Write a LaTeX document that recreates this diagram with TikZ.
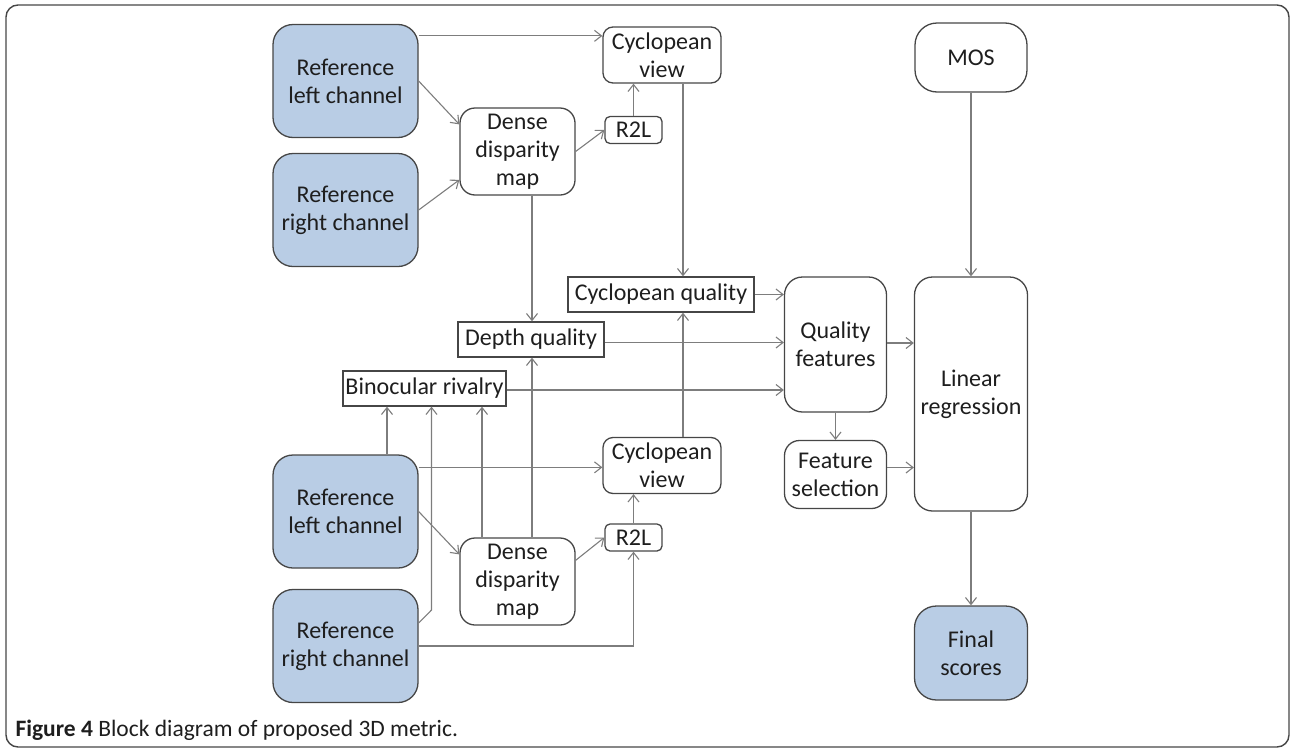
\documentclass[tikz,border=0pt]{standalone}
\usepackage{fontspec}
\setmainfont{Carlito}
\usetikzlibrary{positioning}
\usetikzlibrary{calc}
\usetikzlibrary{arrows.meta}

\definecolor{refblue}{RGB}{185,205,229}
\definecolor{boxline}{RGB}{70,70,70}
\definecolor{connline}{RGB}{125,125,125}
\definecolor{txt}{RGB}{30,30,30}

\begin{document}
\begin{tikzpicture}[x=1pt,y=-1pt,
  font=\fontsize{24}{28}\selectfont,
  block/.style={draw=boxline,line width=1.3pt,align=center,inner sep=0pt,text=txt},
  rbox/.style={block,rounded corners=#1},
  inbox/.style={rbox=20pt,fill=refblue,minimum width=145pt,minimum height=113pt},
  sbox/.style={block,minimum height=35pt},
  conn/.style={draw=connline,line width=1.1pt,-{Straight Barb[length=7pt,width=11pt]}}]
\useasboundingbox (0,0) rectangle (1291,750);
\draw[boxline,line width=1.4pt,rounded corners=12pt] (6,5) rectangle (1289,747);

% upper branch
\node[inbox] (refL1) at (345.5,81) {Reference\\left channel};
\node[inbox] (refR1) at (345.5,210) {Reference\\right channel};
\node[rbox=15pt,minimum width=115pt,minimum height=87pt] (dense1) at (517.5,151.5) {Dense\\disparity\\map};
\node[rbox=5pt,minimum width=57pt,minimum height=27pt] (r2l1) at (633.5,130) {R2L};
\node[rbox=10pt,minimum width=118pt,minimum height=56pt] (cyc1) at (662,55) {Cyclopean\\view};

% quality measures
\node[sbox,minimum width=186pt] (cycq) at (661,294.5) {Cyclopean quality};
\node[sbox,minimum width=146pt] (depq) at (531,339.5) {Depth quality};
\node[sbox,minimum width=163pt] (binoc) at (424.5,388.5) {Binocular rivalry};

% lower branch
\node[inbox] (refL2) at (345.5,511.5) {Reference\\left channel};
\node[inbox] (refR2) at (345.5,646) {Reference\\right channel};
\node[rbox=15pt,minimum width=115pt,minimum height=87pt] (dense2) at (517.5,581.5) {Dense\\disparity\\map};
\node[rbox=5pt,minimum width=57pt,minimum height=27pt] (r2l2) at (633.5,537.5) {R2L};
\node[rbox=10pt,minimum width=118pt,minimum height=56pt] (cyc2) at (662,465.5) {Cyclopean\\view};

% regression part
\node[rbox=18pt,minimum width=102pt,minimum height=135pt] (qf) at (835.5,344.5) {Quality\\features};
\node[rbox=15pt,minimum width=102pt,minimum height=68pt] (fs) at (835.5,474.5) {Feature\\selection};
\node[rbox=22pt,minimum width=112pt,minimum height=69pt] (mos) at (971,57.5) {MOS};
\node[rbox=18pt,minimum width=113pt,minimum height=234pt] (lr) at (971,394) {Linear\\regression};
\node[rbox=22pt,fill=refblue,minimum width=113pt,minimum height=94pt] (final) at (971,653) {Final\\scores};

\node[anchor=base west,font=\fontsize{23.5}{26}\selectfont,text=txt] (cap) at (12,736)
  {\textbf{Figure 4} Block diagram of proposed 3D metric.};

\coordinate (bend) at (431.5,610);

% upper connectors
\draw[conn] ([yshift=-12pt]refL1.north east) -- ([yshift=-12pt]refL1.north east -| cyc1.west);
\draw[conn] (refL1.east) -- (dense1.155);
\draw[conn] (refR1.east) -- (dense1.206);
\draw[conn] (dense1.east) -- (r2l1.west);
\draw[conn] (r2l1.north) -- (r2l1.north |- cyc1.south);
\draw[conn] ([xshift=21pt]cyc1.south) -- ([xshift=21pt]cyc1.south |- cycq.north);
\draw[conn] ([xshift=14.5pt]dense1.south) -- ([xshift=14.5pt]dense1.south |- depq.north);

% into quality features
\draw[conn] (cycq.east) -- (cycq.east -| qf.west);
\draw[conn] ([yshift=-3pt]depq.east) -- ([yshift=-3pt]depq.east -| qf.west);
\draw[conn] ([yshift=-1.5pt]binoc.east) -- ([yshift=-1.5pt]binoc.east -| qf.west);

% lower connectors
\draw[conn] ([yshift=-13pt]refL2.north east) -- ([yshift=-13pt]refL2.north east -| cyc2.west);
\draw[conn] (refL2.east) -- (dense2.155);
\draw[conn] (dense2.20) -- (r2l2.west);
\draw[conn] (r2l2.north) -- (r2l2.north |- cyc2.south);
\draw[conn] (refR2.east) -| (r2l2.south);
\draw[conn] ([yshift=23pt]refR2.east) -- (bend) -- (bend |- binoc.south);
\draw[conn] ([xshift=41.5pt]refL2.north) -- ([xshift=41.5pt]refL2.north |- binoc.south);
\draw[conn] ([xshift=-35.5pt]dense2.north) -- ([xshift=-35.5pt]dense2.north |- binoc.south);
\draw[conn] ([xshift=14.5pt]dense2.north) -- ([xshift=14.5pt]dense2.north |- depq.south);
\draw[conn] ([xshift=21pt]cyc2.north) -- ([xshift=21pt]cyc2.north |- cycq.south);

% regression
\draw[conn] (mos.south) -- (lr.north);
\draw[conn] (qf.south) -- (fs.north);
\draw[conn] ([yshift=1.5pt]qf.east) -- ([yshift=1.5pt]qf.east -| lr.west);
\draw[conn] ([yshift=7pt]fs.east) -- ([yshift=7pt]fs.east -| lr.west);
\draw[conn] (lr.south) -- (final.north);

\end{tikzpicture}
\end{document}
